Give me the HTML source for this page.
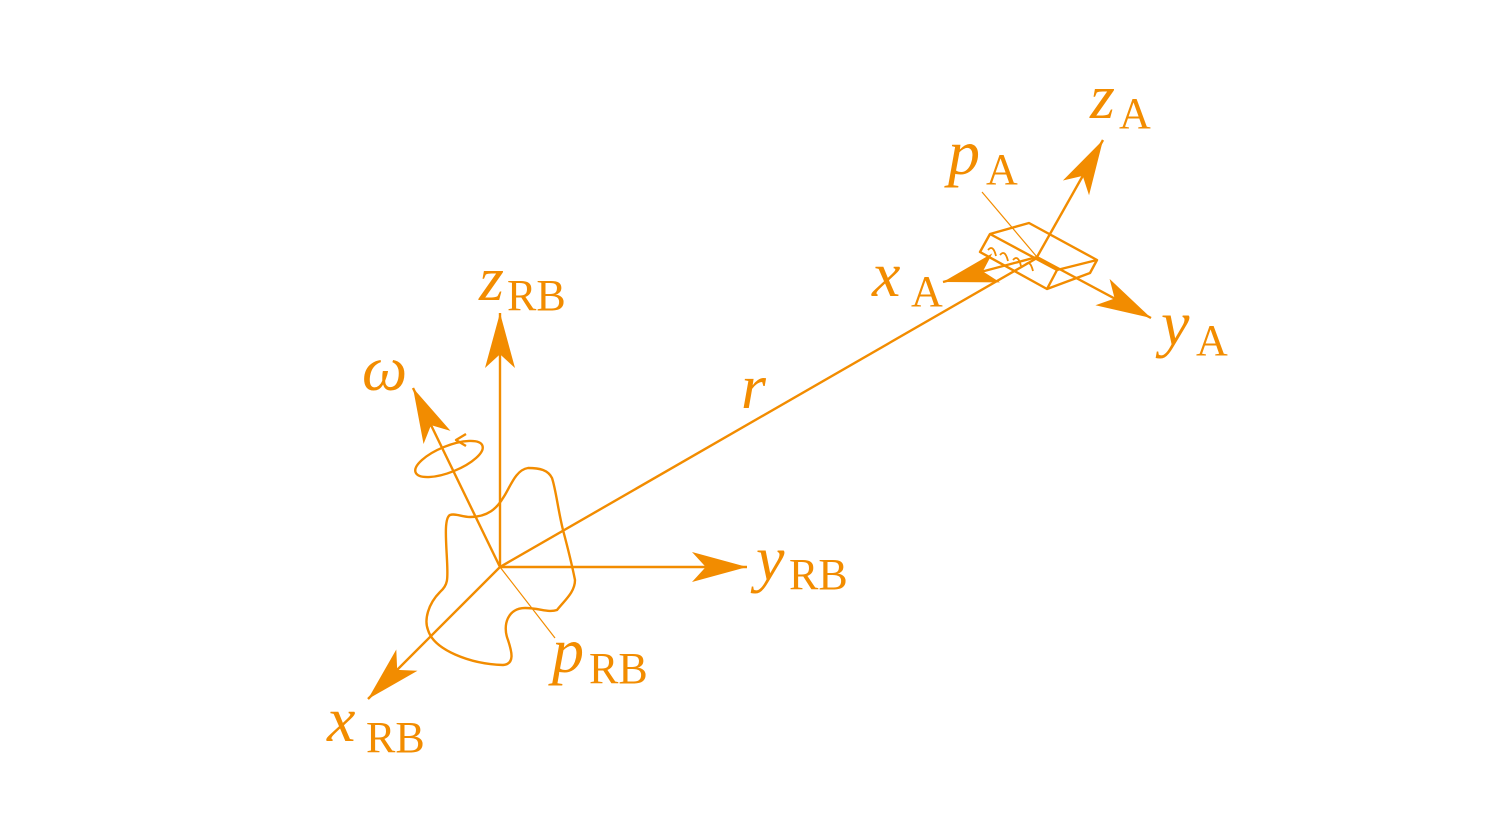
<!DOCTYPE html>
<html><head><meta charset="utf-8"><style>
html,body{margin:0;padding:0;background:#fff;}
svg{display:block;}
text{font-family:"Liberation Serif",serif;fill:#f28c00;}
</style></head><body>
<svg width="1493" height="840" viewBox="0 0 1493 840" xmlns="http://www.w3.org/2000/svg">
<defs>
<marker id="ah" markerUnits="userSpaceOnUse" markerWidth="60" markerHeight="40" refX="0" refY="0" viewBox="-46 -14 48 28" orient="auto" overflow="visible">
<path d="M0,0 L-44,-12 L-33,0 L-44,12 Z" fill="#f28c00"/>
</marker>
</defs>
<g stroke="#f28c00" stroke-width="2.4" fill="none" stroke-linejoin="round">
<line x1="500" y1="567" x2="500" y2="313" marker-end="url(#ah)"/>
<line x1="500" y1="567" x2="747" y2="567" marker-end="url(#ah)"/>
<line x1="500" y1="567" x2="368" y2="699" marker-end="url(#ah)"/>
<line x1="500" y1="567" x2="413" y2="388" marker-end="url(#ah)"/>
<line x1="500" y1="567" x2="1037" y2="258"/>
<path d="M450,515 C444,518 446,540 447,560 C448,580 448,585 440,592 C428,604 424,620 428,630 C434,650 470,664 503,665 C515,664 512,652 508,640 C502,625 508,608 525,608 C540,608 548,613 557,610 C565,600 575,592 575,580 C572,565 567,545 563,530 C558,510 556,490 552,478 C548,470 540,468 528,468 C515,470 510,488 503,498 C497,508 488,517 470,517 C462,517 455,513 450,515 Z"/>
<ellipse cx="449" cy="459" rx="36" ry="13" transform="rotate(-22 449 459)"/>
<path d="M466,434 L456,440 L466,446"/>
<path d="M980,252 L990,234 L1029,223 L1097,260 L1090,273 L1047,289 Z"/>
<path d="M990,234 L1057,270 L1097,260 M1057,270 L1047,289"/>
<path d="M988,250 q5,-6 8,6 M1000,255 q5,-6 8,6 M1013,260 q5,-6 8,6 M1025,265 q5,-6 8,6" stroke-width="1.8"/>
<line x1="1037" y1="257" x2="1103" y2="140" marker-end="url(#ah)"/>
<line x1="1037" y1="257" x2="1151" y2="318" marker-end="url(#ah)"/>
<line x1="1037" y1="257" x2="943" y2="282" marker-end="url(#ah)"/>
</g>
<g stroke="#f28c00" stroke-width="1.2">
<line x1="982" y1="192" x2="1037" y2="257"/>
<line x1="500" y1="567" x2="555" y2="638"/>
</g>
<g font-size="64" font-style="italic">
<text x="479" y="300">z</text>
<text x="362" y="390">ω</text>
<text x="741" y="408">r</text>
<text x="756" y="580">y</text>
<text x="552" y="672">p</text>
<text x="327" y="741">x</text>
<text x="872" y="296">x</text>
<text x="1161" y="345">y</text>
<text x="1090" y="118">z</text>
<text x="948" y="174">p</text>
</g>
<g font-size="44" font-style="normal">
<text x="507" y="310">RB</text>
<text x="789" y="589">RB</text>
<text x="589" y="683">RB</text>
<text x="366" y="752">RB</text>
<text x="911" y="306">A</text>
<text x="1196" y="355">A</text>
<text x="1119" y="128">A</text>
<text x="986" y="184">A</text>
</g>
</svg>
</body></html>
